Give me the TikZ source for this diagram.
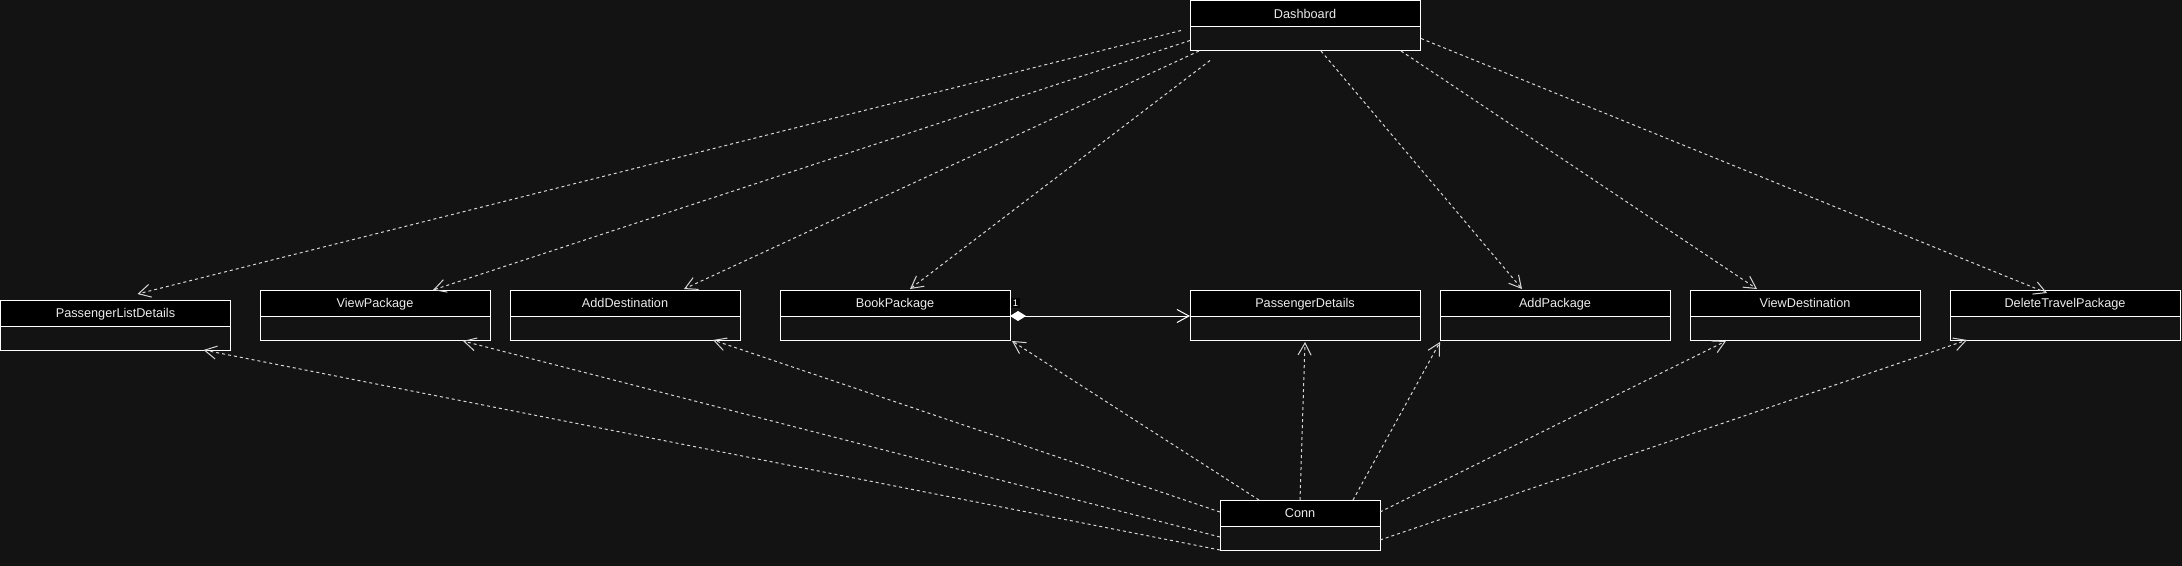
\documentclass[tikz,border=0pt]{standalone}
\usepackage{fontspec}
\setmainfont{Liberation Sans}
\usetikzlibrary{arrows.meta,calc}
\definecolor{bgc}{RGB}{19,19,19}
\definecolor{txt}{RGB}{235,235,235}
\definecolor{lnc}{RGB}{215,215,215}
\tikzset{
 classbox/.style={rectangle, draw=none, inner sep=0pt, outer sep=0pt, minimum height=50bp, anchor=north west},
 classtitle/.style={text=txt, font=\fontsize{12.7bp}{15bp}\selectfont, inner sep=0pt, anchor=base},
 dep/.style={draw=lnc, line width=1bp, dash pattern=on 3bp off 3bp, -{Straight Barb[length=12bp,width=13bp]}},
 comp/.style={draw=white, line width=1bp, {Diamond[length=16bp,width=10bp,fill=white]}-{Straight Barb[length=12bp,width=13bp]}},
 multlabel/.style={fill=black, text=white, font=\fontsize{9.5bp}{10bp}\selectfont, inner sep=1.5bp}
}
\newcommand\umlclass[5]{%
 \node[classbox, minimum width=#4bp] (#1) at (#2,#3) {};
 \fill[black] (#1.north west) rectangle ($(#1.north east)+(0,26)$);
 \draw[white, line width=1bp] ($(#1.north west)+(0,26)$) -- ($(#1.north east)+(0,26)$);
 \draw[white, line width=1bp] (#1.north west) rectangle (#1.south east);
 \node[classtitle] (#1-t) at ($(#1.north)+(0,17.8)$) {#5};
}
\begin{document}
\begin{tikzpicture}[x=1bp, y=-1bp]
\fill[bgc] (0,0) rectangle (2182,566);
\umlclass{dash}{1190}{0.5}{230}{Dashboard}
\umlclass{pld}{0.5}{300}{230}{PassengerListDetails}
\umlclass{vp}{260}{290}{230}{ViewPackage}
\umlclass{ad}{510}{290}{230}{AddDestination}
\umlclass{bp}{780}{290}{230}{BookPackage}
\umlclass{pd}{1190}{290}{230}{PassengerDetails}
\umlclass{ap}{1440}{290}{230}{AddPackage}
\umlclass{vd}{1690}{290}{230}{ViewDestination}
\umlclass{dtp}{1950}{290}{230}{DeleteTravelPackage}
\umlclass{conn}{1220}{500}{160}{Conn}
% Dashboard dependencies
\draw[dep] ($(dash.north west)+(-9,30)$) -- ($(pld.north west)+(137,-6)$);
\draw[dep] ($(dash.north west)+(0,40)$) -- ($(vp.north west)+(173,0)$);
\draw[dep] ($(dash.north west)+(9,50.5)$) -- ($(ad.north west)+(174,-1)$);
\draw[dep] ($(dash.north west)+(20,60)$) -- ($(bp.north west)+(130,-1)$);
\draw[dep] ($(dash.north west)+(131,50.5)$) -- ($(ap.north west)+(82,-1)$);
\draw[dep] ($(dash.north west)+(211,50.5)$) -- ($(vd.north west)+(67,-1)$);
\draw[dep] ($(dash.north east)+(1,38)$) -- ($(dtp.north west)+(97,3)$);
% Conn dependencies
\draw[dep] ($(conn.north west)+(80,0)$) -- ($(pd.south west)+(115,2)$);
\draw[dep] ($(conn.north west)+(133,0)$) -- ($(ap.south west)+(0,2)$);
\draw[dep] ($(conn.north west)+(39,0)$) -- ($(bp.south east)+(2,1)$);
\draw[dep] ($(conn.north west)+(0,12)$) -- ($(ad.south west)+(203,0)$);
\draw[dep] ($(conn.north west)+(0,37)$) -- ($(vp.south west)+(203,1)$);
\draw[dep] ($(conn.north west)+(0,50)$) -- ($(pld.south west)+(203,0)$);
\draw[dep] ($(conn.north east)+(0,12)$) -- ($(vd.south west)+(36,1)$);
\draw[dep] ($(conn.north east)+(0,40)$) -- ($(dtp.south west)+(17,0)$);
% Composition
\draw[comp] ($(bp.north east)+(0,26)$) -- ($(pd.north west)+(0,26)$);
\node[multlabel] (mult) at ($(bp.north east)+(5.5,13)$) {1};
\end{tikzpicture}
\end{document}
